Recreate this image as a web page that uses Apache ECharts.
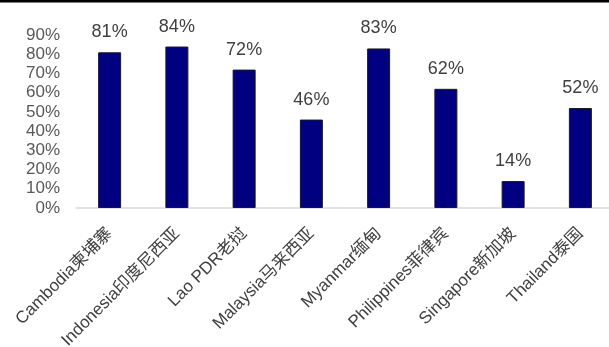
<!DOCTYPE html>
<html>
<head>
<meta charset="utf-8">
<script src="https://cdn.jsdelivr.net/npm/echarts@6/dist/echarts.min.js"></script>
<style>
  html, body { margin: 0; padding: 0; background: #fff; }
  #chart { width: 609px; height: 347px; }
</style>
</head>
<body>
<div id="chart"></div>
<script>
// Country names (English + Chinese) along the x axis
const countries = [
  'Cambodia柬埔寨', 'Indonesia印度尼西亚', 'Lao PDR老挝', 'Malaysia马来西亚',
  'Myanmar缅甸', 'Philippines菲律宾', 'Singapore新加坡', 'Thailand泰国'
];
// Share per country, in percent
const shares = [81, 84, 72, 46, 83, 62, 14, 52];
// Y axis range and step, in percent
const yMin = 0, yMax = 90, yStep = 10;

const chart = echarts.init(document.getElementById('chart'));
chart.setOption({
  animation: false,
  backgroundColor: '#ffffff',
  graphic: [{
    type: 'rect',
    left: 0, top: 0,
    shape: { width: 609, height: 2.5 },
    style: { fill: '#000000' }
  }],
  grid: {
    left: 76, right: -5, top: 35, bottom: 139,
    containLabel: false,
    outerBoundsMode: 'none'
  },
  xAxis: {
    type: 'category',
    data: countries,
    axisLine: { show: true, lineStyle: { color: '#d9d9d9', width: 1.5 } },
    axisTick: { show: false },
    axisLabel: {
      interval: 0,
      rotate: 45,
      margin: 23,
      color: '#404040',
      fontSize: 17,
      fontFamily: 'Liberation Sans, Arial, "Noto Sans CJK SC", sans-serif'
    }
  },
  yAxis: {
    type: 'value',
    min: yMin, max: yMax, interval: yStep,
    axisLine: { show: false },
    axisTick: { show: false },
    splitLine: { show: false },
    axisLabel: {
      margin: 16,
      color: '#595959',
      fontSize: 17,
      fontFamily: 'Liberation Sans, Arial, sans-serif',
      formatter: v => v + '%'
    }
  },
  series: [{
    type: 'bar',
    data: shares,
    barWidth: 23,
    itemStyle: { color: '#000080', borderColor: '#1a1a1a', borderWidth: 1 },
    label: {
      show: true,
      position: 'top',
      distance: 11,
      color: '#404040',
      fontSize: 18,
      fontFamily: 'Liberation Sans, Arial, sans-serif',
      formatter: p => p.value + '%'
    }
  }]
});
</script>
</body>
</html>
